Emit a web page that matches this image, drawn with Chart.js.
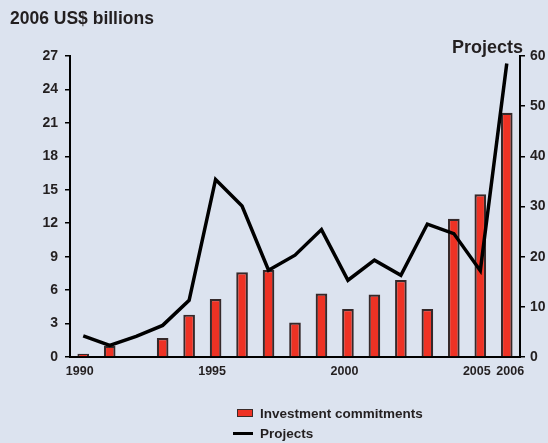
<!DOCTYPE html>
<html>
<head>
<meta charset="utf-8">
<script src="https://cdn.jsdelivr.net/npm/chart.js@4.4.1/dist/chart.umd.min.js"></script>
<style>
  html, body { margin: 0; padding: 0; background: #dce3ef; }
  #wrap { position: relative; width: 548px; height: 443px; overflow: hidden; }
  #legend {
    position: absolute; left: 233px; top: 403px;
    font: bold 13.5px "Liberation Sans", Arial, sans-serif; color: #231f20;
  }
  .item { display: flex; align-items: center; height: 20px; }
  .swatch { width: 27px; display: flex; align-items: center; }
  .box { width: 14px; height: 6px; margin-left: 4px; border: 1.5px solid #3a2a28; background: #ee3224; }
  .line { width: 20px; height: 3px; background: #000; }
</style>
</head>
<body>
<div id="wrap">
  <canvas id="chart" width="548" height="443"></canvas>
  <div id="legend"></div>
</div>
<script>
// --- données ---
const years = ['1990', '1991', '1992', '1993', '1994', '1995', '1996', '1997', '1998',
               '1999', '2000', '2001', '2002', '2003', '2004', '2005', '2006'];
const shownYears = ['1990', '1995', '2000', '2005', '2006'];
const investment = [0.3, 1.0, null, 1.7, 3.8, 5.2, 7.6, 7.8, 3.1, 5.7, 4.3, 5.6, 6.9, 4.3, 12.4, 14.6, 21.9];
const projects = [4.2, 2.3, 4.1, 6.3, 11.3, 35.4, 30.1, 17.3, 20.3, 25.4, 15.3, 19.3, 16.3, 26.5, 24.6, 17.2, 58.5];
const leftTicks = { min: 0, max: 27, step: 3 };
const rightTicks = { min: 0, max: 60, step: 10 };

const ink = '#231f20';
const font = '"Liberation Sans", Arial, sans-serif';

// titres dessinés sur le canvas
const titles = {
    id: 'titles',
    afterDraw(chart) {
        const ctx = chart.ctx;
        ctx.save();
        ctx.fillStyle = ink;
        ctx.textBaseline = 'alphabetic';
        ctx.font = 'bold 17.5px ' + font;
        ctx.textAlign = 'left';
        ctx.fillText('2006 US$ billions', 10, 24);
        ctx.font = 'bold 18px ' + font;
        ctx.textAlign = 'right';
        ctx.fillText('Projects', 523, 53);
        ctx.restore();
    }
};

const chart = new Chart(document.getElementById('chart'), {
    type: 'bar',
    data: {
        labels: years,
        datasets: [
            {
                type: 'bar',
                label: 'Investment commitments',
                data: investment,
                yAxisID: 'y',
                backgroundColor: '#ee3224',
                borderColor: '#35292a',
                borderWidth: 2.2,
                categoryPercentage: 1,
                barPercentage: 0.44,
                order: 2
            },
            {
                type: 'line',
                label: 'Projects',
                data: projects,
                yAxisID: 'y1',
                borderColor: '#000',
                borderWidth: 3.5,
                pointRadius: 0,
                tension: 0,
                fill: false,
                order: 1
            }
        ]
    },
    options: {
        responsive: false,
        devicePixelRatio: 1,
        animation: false,
        layout: { padding: { top: 56, bottom: 56, left: 0, right: 0 } },
        plugins: {
            legend: { display: false },
            tooltip: { enabled: false }
        },
        scales: {
            x: {
                offset: true,
                grid: { display: false, drawTicks: false },
                border: { color: '#000', width: 2 },
                afterFit: s => { s.height = 30; },
                ticks: {
                    autoSkip: false,
                    maxRotation: 0,
                    padding: 7,
                    color: ink,
                    font: { family: font, size: 12.5, weight: 'bold' },
                    callback: function(value) {
                        const y = years[value];
                        if (!shownYears.includes(y)) return '';
                        if (y === '2006') return '  ' + y;
                        return y + '  ';
                    }
                }
            },
            y: {
                position: 'left',
                min: leftTicks.min,
                max: leftTicks.max,
                afterFit: s => { s.width = 70; },
                grid: { drawOnChartArea: false, tickLength: 5, color: '#000', lineWidth: 1.5 },
                border: { color: '#000', width: 2 },
                ticks: {
                    stepSize: leftTicks.step,
                    padding: 7,
                    color: ink,
                    font: { family: font, size: 14, weight: 'bold' }
                }
            },
            y1: {
                position: 'right',
                min: rightTicks.min,
                max: rightTicks.max,
                afterFit: s => { s.width = 28; },
                grid: { drawOnChartArea: false, tickLength: 5, color: '#000', lineWidth: 1.5 },
                border: { color: '#000', width: 2 },
                ticks: {
                    stepSize: rightTicks.step,
                    padding: 5,
                    color: ink,
                    font: { family: font, size: 14, weight: 'bold' }
                }
            }
        }
    },
    plugins: [titles]
});

// légende HTML empilée
const legendEl = document.getElementById('legend');
chart.data.datasets.forEach(ds => {
    const item = document.createElement('div');
    item.className = 'item';
    const sw = document.createElement('span');
    sw.className = 'swatch';
    const mark = document.createElement('span');
    mark.className = ds.type === 'bar' ? 'box' : 'line';
    sw.appendChild(mark);
    const txt = document.createElement('span');
    txt.textContent = ds.label;
    item.appendChild(sw);
    item.appendChild(txt);
    legendEl.appendChild(item);
});
</script>
</body>
</html>
